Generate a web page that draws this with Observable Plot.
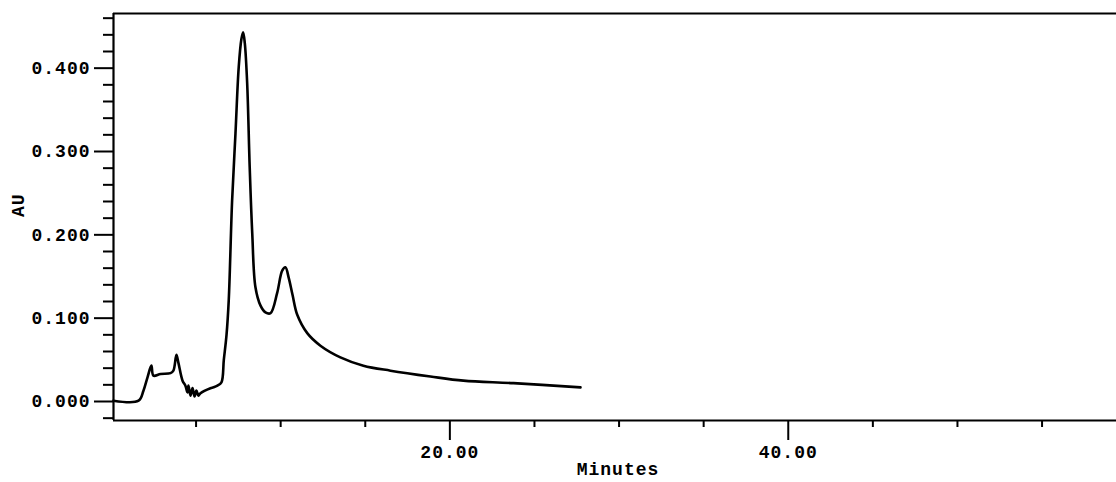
<!DOCTYPE html>
<html>
<head>
<meta charset="utf-8">
<script src="https://cdn.jsdelivr.net/npm/d3@7"></script>
<script src="https://cdn.jsdelivr.net/npm/@observablehq/plot@0.6"></script>
<style>
  html, body { margin: 0; padding: 0; background: white; overflow: hidden; }
  svg text { font-family: "Liberation Mono", "DejaVu Sans Mono", monospace !important; font-weight: bold; font-size: 18px; letter-spacing: 1px; -webkit-text-stroke: 0.8px black; }
</style>
</head>
<body>
<div id="chart"></div>
<script>
// Retention time (minutes)
const time = [0.12, 1.6, 1.89, 2.13, 2.36, 2.48, 2.9, 3.49, 3.66, 3.84, 3.96, 4.2, 4.37, 4.49, 4.55, 4.67, 4.79, 4.91, 5.02, 5.14, 5.26, 5.85, 6.03, 6.26, 6.5, 6.64, 6.8, 6.93, 7.13, 7.33, 7.52, 7.68, 7.78, 7.88, 8.02, 8.17, 8.32, 8.51, 8.81, 9.1, 9.4, 9.79, 10.09, 10.28, 10.48, 10.7, 10.98, 11.57, 12.35, 13.53, 14.89, 16.49, 18.85, 20.8, 23.76, 27.72];
// Absorbance (AU)
const absorbance = [0.001, 0.001, 0.013, 0.029, 0.043, 0.031, 0.033, 0.034, 0.037, 0.056, 0.046, 0.025, 0.019, 0.011, 0.019, 0.007, 0.016, 0.006, 0.013, 0.007, 0.010, 0.016, 0.017, 0.019, 0.023, 0.05, 0.08, 0.121, 0.241, 0.322, 0.401, 0.435, 0.443, 0.43, 0.382, 0.281, 0.202, 0.137, 0.115, 0.107, 0.106, 0.130, 0.157, 0.161, 0.148, 0.128, 0.104, 0.082, 0.067, 0.053, 0.043, 0.037, 0.030, 0.025, 0.022, 0.017];

const yMajorTicks = [0, 0.1, 0.2, 0.3, 0.4];
const yMinorTicks = [-0.02, 0.02, 0.04, 0.06, 0.08, 0.12, 0.14, 0.16, 0.18, 0.22, 0.24, 0.26, 0.28, 0.32, 0.34, 0.36, 0.38, 0.42, 0.44, 0.46];
const xMajorTicks = [20, 40];
const xMinorTicks = [5, 10, 15, 25, 30, 35, 45, 50, 55];
const xLabel = "Minutes";
const yLabel = "AU";

const xDomain = [0.12, 59.4];
const yDomain = [-0.0228, 0.4656];

const data = time.map((t, i) => ({t, au: absorbance[i]}));

const chart = Plot.plot({
  width: 1116,
  height: 482,
  marginLeft: 113,
  marginRight: 0,
  marginTop: 13,
  marginBottom: 62,
  style: {background: "white", color: "black"},
  x: {domain: xDomain},
  y: {domain: yDomain},
  marks: [
    Plot.ruleY([yDomain[0]], {stroke: "black", strokeWidth: 2.2}),
    Plot.ruleY([yDomain[1]], {stroke: "black", strokeWidth: 2.2}),
    Plot.ruleX([xDomain[0]], {stroke: "black", strokeWidth: 2.2}),
    Plot.axisY(yMajorTicks, {tickSize: 19, tickPadding: 4, strokeWidth: 2, tickFormat: d => d.toFixed(3), label: null}),
    Plot.axisY(yMinorTicks, {tickSize: 10, strokeWidth: 2, tickFormat: () => "", label: null}),
    Plot.axisX(xMajorTicks, {tickSize: 20, tickPadding: 5, strokeWidth: 2, tickFormat: d => d.toFixed(2), label: null}),
    Plot.axisX(xMinorTicks, {tickSize: 7, strokeWidth: 2, tickFormat: () => "", label: null}),
    Plot.line(data, {x: "t", y: "au", stroke: "black", strokeWidth: 2.6, curve: "catmull-rom", strokeLinejoin: "round"}),
    Plot.text([yLabel], {text: d => d, frameAnchor: "left", dx: -95, rotate: -90}),
    Plot.text([xLabel], {text: d => d, frameAnchor: "bottom", dx: 3, dy: 54})
  ]
});
document.getElementById("chart").appendChild(chart);
</script>
</body>
</html>
